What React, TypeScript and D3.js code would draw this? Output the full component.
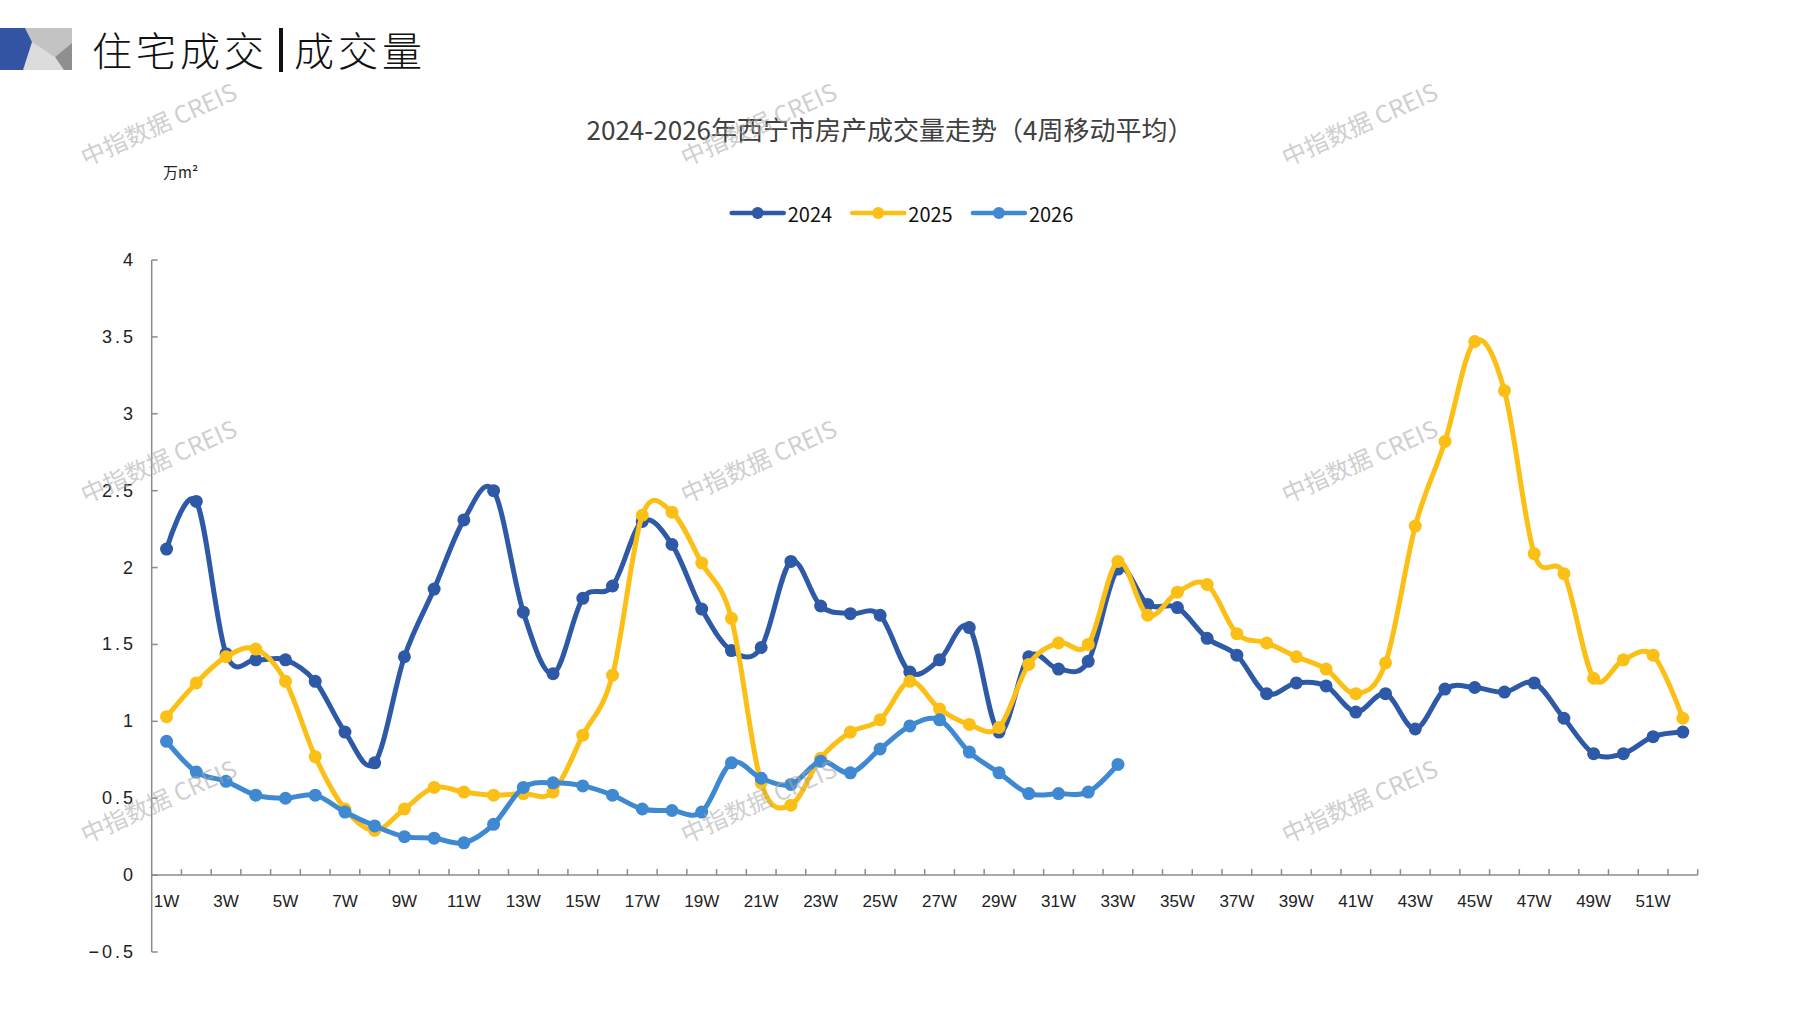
import React from "react";
import * as d3 from "d3";

const WEEKS = d3.range(1, 53).map((w) => `${w}W`);

const SERIES_NAMES = ["2024", "2025", "2026"];
const COLORS = ["#2E59A7", "#FBBF16", "#3F89D2"];

const VALUES_2024 = [
  2.12, 2.43, 1.44, 1.4, 1.4, 1.26, 0.93, 0.73, 1.42, 1.86,
  2.31, 2.5, 1.71, 1.31, 1.8, 1.88, 2.3, 2.15, 1.73, 1.46,
  1.48, 2.04, 1.75, 1.7, 1.69, 1.32, 1.4, 1.61, 0.93, 1.42,
  1.34, 1.39, 1.99, 1.76, 1.74, 1.54, 1.43, 1.18, 1.25, 1.23,
  1.06, 1.18, 0.95, 1.21, 1.22, 1.19, 1.25, 1.02, 0.79, 0.79,
  0.9, 0.93,
];

const VALUES_2025 = [
  1.03, 1.25, 1.42, 1.47, 1.26, 0.77, 0.43, 0.29, 0.43, 0.57,
  0.54, 0.52, 0.53, 0.54, 0.91, 1.3, 2.34, 2.36, 2.03, 1.67,
  0.6, 0.455, 0.76, 0.93, 1.01, 1.26, 1.08, 0.98, 0.96, 1.37,
  1.51, 1.5, 2.04, 1.69, 1.84, 1.89, 1.57, 1.51, 1.42, 1.34,
  1.18, 1.38, 2.27, 2.82, 3.47, 3.15, 2.09, 1.96, 1.28, 1.4,
  1.43, 1.02,
];

const VALUES_2026 = [
  0.87, 0.67, 0.61, 0.52, 0.5, 0.52, 0.41, 0.32, 0.25, 0.24,
  0.21, 0.33, 0.57, 0.6, 0.58, 0.52, 0.43, 0.42, 0.41, 0.73,
  0.63, 0.59, 0.74, 0.665, 0.82, 0.97, 1.01, 0.8, 0.665, 0.53,
  0.53, 0.54, 0.72,
];

const Y_TICKS = [-0.5, 0, 0.5, 1, 1.5, 2, 2.5, 3, 3.5, 4];

const WATERMARK_X = [158, 758, 1359];
const WATERMARK_Y = [123, 460, 800];

const W = 1797;
const H = 1010;
const left = 151.7;
const right = 1697.7;
const top = 260;
const bottom = 952;

export default function App() {
  const x = d3.scaleBand<string>().domain(WEEKS).range([left, right]).paddingInner(0).paddingOuter(0);
  const y = d3.scaleLinear().domain([-0.5, 4]).range([bottom, top]);
  const cx = (i: number) => (x(WEEKS[i]) ?? 0) + x.bandwidth() / 2;

  // Excel-style smoothed line
  const line = d3
    .line<number>()
    .x((_, i) => cx(i))
    .y((d) => y(d))
    .curve(d3.curveCatmullRom.alpha(0));

  const series = [VALUES_2024, VALUES_2025, VALUES_2026];
  const y0 = y(0);
  const axisColor = "#8c8c8c";
  const cjk = "'Noto Sans CJK SC', 'Noto Sans', sans-serif";

  // category boundaries for x ticks
  const boundaries = WEEKS.map((w) => x(w) ?? 0).concat([right]);

  return (
    <div style={{ position: "absolute", left: 0, top: 0 }}>
      <svg width={W} height={H} viewBox={`0 0 ${W} ${H}`} style={{ display: "block", background: "#fff" }}>
        {/* header badge */}
        <g>
          <rect x={0} y={28} width={72} height={42} fill="#dcdcdc" />
          <polygon points="25,28 72,28 72,43 55,57 32,42" fill="#c3c3c3" />
          <polygon points="55,57 72,43 72,70 64,70" fill="#8f8f8f" />
          <polygon points="0,28 25,28 32,42 23,70 0,70" fill="#3353A4" />
        </g>
        <text x={92} y={66} fontFamily={cjk} fontSize={40} fontWeight={300} fill="#111" letterSpacing={4}>
          住宅成交
        </text>
        <rect x={279} y={28} width={4} height={44} fill="#111" />
        <text x={294} y={66} fontFamily={cjk} fontSize={40} fontWeight={300} fill="#111" letterSpacing={4}>
          成交量
        </text>

        {/* chart title */}
        <text x={890} y={140} textAnchor="middle" fontFamily={cjk} fontSize={26} fill="#404040">
          2024-2026年西宁市房产成交量走势（4周移动平均）
        </text>

        {/* unit */}
        <text x={163} y={178} fontFamily={cjk} fontSize={15} fill="#222">
          万m²
        </text>

        {/* legend */}
        {SERIES_NAMES.map((name, i) => {
          const lx = 731.7 + i * 120.6;
          return (
            <g key={name}>
              <line x1={lx} x2={lx + 52} y1={213} y2={213} stroke={COLORS[i]} strokeWidth={4.5} strokeLinecap="round" />
              <circle cx={lx + 26} cy={213} r={6} fill={COLORS[i]} />
              <text x={lx + 56} y={213} dominantBaseline="central" fontFamily={cjk} fontSize={20} fill="#111">
                {name}
              </text>
            </g>
          );
        })}

        {/* y axis */}
        <line x1={left} x2={left} y1={top} y2={bottom} stroke={axisColor} strokeWidth={1.5} />
        {Y_TICKS.map((t) => (
          <g key={t}>
            <line x1={left} x2={left + 6} y1={y(t)} y2={y(t)} stroke={axisColor} strokeWidth={1.5} />
            <text
              x={136}
              y={y(t)}
              textAnchor="end"
              dominantBaseline="central"
              fontFamily="'Liberation Sans', Arial, sans-serif"
              fontSize={18}
              letterSpacing={3}
              fill="#222"
            >
              {d3.format("")(t)}
            </text>
          </g>
        ))}

        {/* x axis */}
        <line x1={left} x2={right} y1={y0} y2={y0} stroke={axisColor} strokeWidth={1.5} />
        {boundaries.slice(1).map((bx, i) => (
          <line key={i} x1={bx} x2={bx} y1={y0} y2={y0 - 6} stroke={axisColor} strokeWidth={1.5} />
        ))}
        {WEEKS.map((w, i) =>
          i % 2 === 0 ? (
            <text
              key={w}
              x={cx(i)}
              y={907}
              textAnchor="middle"
              fontFamily="'Liberation Sans Narrow', 'Liberation Sans', sans-serif"
              fontSize={17}
              fill="#222"
            >
              {w}
            </text>
          ) : null
        )}

        {/* series */}
        {series.map((vals, si) => (
          <g key={SERIES_NAMES[si]}>
            <path d={line(vals) ?? ""} fill="none" stroke={COLORS[si]} strokeWidth={5} strokeLinejoin="round" />
            {vals.map((v, i) => (
              <circle key={i} cx={cx(i)} cy={y(v)} r={6.5} fill={COLORS[si]} />
            ))}
          </g>
        ))}

        {/* watermarks */}
        {WATERMARK_Y.map((wy) =>
          WATERMARK_X.map((wx) => (
            <text
              key={`${wx}-${wy}`}
              x={wx}
              y={wy}
              textAnchor="middle"
              dominantBaseline="central"
              transform={`rotate(-24 ${wx} ${wy})`}
              fontFamily={cjk}
              fontSize={24}
              fill="#a8a8a8"
              opacity={0.55}
            >
              中指数据 CREIS
            </text>
          ))
        )}
      </svg>
    </div>
  );
}
